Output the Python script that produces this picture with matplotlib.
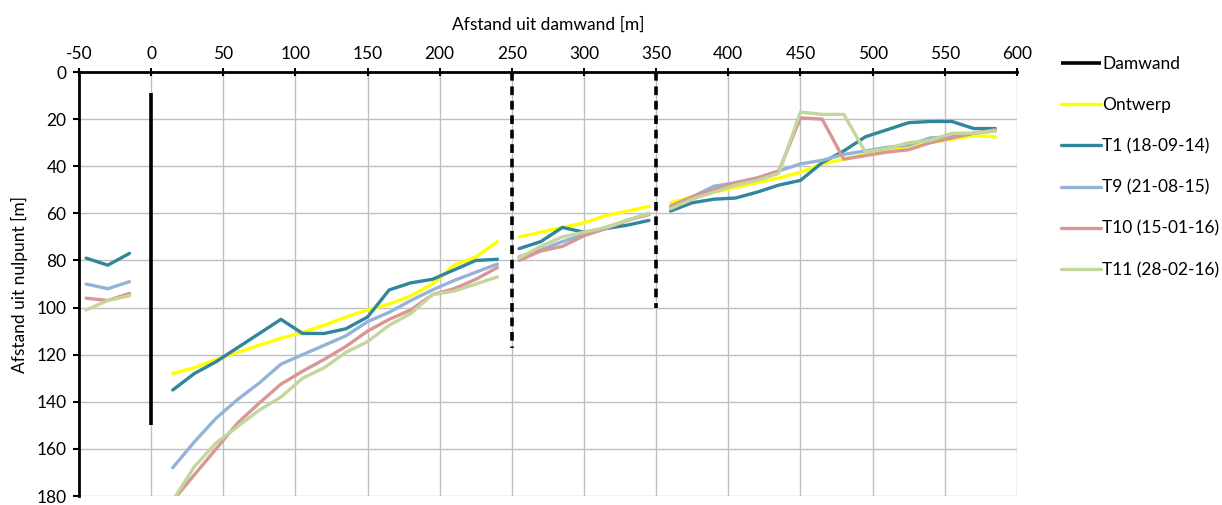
import numpy as np
import matplotlib
matplotlib.use("Agg")
from matplotlib import pyplot as plt

plt.rcParams['font.family'] = ['Lato', 'DejaVu Sans']
plt.rcParams['axes.unicode_minus'] = False

# x positions (m), None marks a gap between measured stretches
x = [-45, -30, -15, None,
     15, 30, 45, 60, 75, 90, 105, 120, 135, 150, 165, 180, 195, 210, 225, 240, None,
     255, 270, 285, 300, 315, 330, 345, None,
     360, 375, 390, 405, 420, 435, 450, 465, 480, 495, 510, 525, 540, 555, 570, 585]

ontwerp = [None, None, None, None,
           128, 125.5, 122, 119, 116, 113, 110.5, 107.5, 104, 101, 98.5, 95, 90, 82, 78.5, 72, None,
           70, 68, 66, 64, 61, 59, 57, None,
           55.5, 53, 51, 49, 47, 45, 42.5, 39, 37, 35, 33.5, 32, 30, 28.5, 27, 27.5]
t1 = [79, 82, 77, None,
      135, 128, 123, 117, 111, 105, 111, 111, 109, 104, 92.5, 89.5, 88, 84, 80, 79.5, None,
      75, 72, 66, 68, 66.5, 65, 63, None,
      59, 55.5, 54, 53.5, 51, 48, 46, 38.5, 33.5, 27.5, 24.5, 21.5, 21, 21, 24, 24]
t9 = [90, 92, 89, None,
      168, 157, 147, 139, 132, 124, 120, 116, 112, 106, 102, 97, 92.5, 88.5, 85, 81.5, None,
      78.5, 75.5, 72, 69, 66, 63, 60, None,
      57, 53, 48.5, 47, 45, 42, 39, 37.5, 35, 33.5, 32, 31, 28, 27.5, 26, 25]
t10 = [96, 97, 94, None,
       182, 171, 160, 149, 140.5, 132.5, 127, 122, 116.5, 110, 105, 101, 94.5, 92, 88, 83, None,
       80, 76, 74, 69.5, 66.5, 63, 60.5, None,
       57, 53, 50, 47, 45, 42, 19.5, 20, 37, 35.5, 34, 33, 30, 28, 26, 24.5]
t11 = [101, 97, 95, None,
       182, 167.5, 157.5, 150.5, 143.5, 138, 130, 125.5, 119, 114.5, 107.5, 102.5, 94.5, 93, 90, 87, None,
       79, 74, 70, 68, 66, 63, 60, None,
       58, 54, 51, 48, 46, 43, 17, 18, 18, 34, 32.5, 30, 29, 26, 26, 25]

# sheet pile walls: solid one at 0, dashed ones at 250 and 350
wall_x = [0, 250, 350]
wall_top = [9, 0, 0]
wall_bottom = [150, 117, 100]

series = [('Ontwerp', ontwerp, '#FFFF00'),
          ('T1 (18-09-14)', t1, '#31859C'),
          ('T9 (21-08-15)', t9, '#95B3D7'),
          ('T10 (15-01-16)', t10, '#D99694'),
          ('T11 (28-02-16)', t11, '#C3D69B')]

def to_arr(v):
    return np.array([np.nan if a is None else a for a in v], dtype=float)

fig = plt.figure(figsize=(12.22, 5.05), dpi=100)
ax = fig.add_axes([0.0646, 0.0178, 0.7676, 0.8396])

xs = to_arr(x)
ax.plot([wall_x[0], wall_x[0]], [wall_top[0], wall_bottom[0]], color='black', lw=2.6,
        solid_capstyle='butt', label='Damwand', zorder=3)
for wx, wt, wb in zip(wall_x[1:], wall_top[1:], wall_bottom[1:]):
    ax.plot([wx, wx], [wt, wb], color='black', lw=2.6, ls=(0, (2.4, 1.6)), zorder=3)

for name, vals, col in series:
    ax.plot(xs, to_arr(vals), color=col, lw=2.4, label=name, solid_capstyle='round')

fs = 12.5
ax.set_xlim(-50, 600)
ax.set_ylim(180, 0)
ax.set_xticks(np.arange(-50, 601, 50))
ax.set_yticks(np.arange(0, 181, 20))
ax.xaxis.tick_top()
ax.xaxis.set_label_position('top')
ax.set_xlabel('Afstand uit damwand [m]', fontsize=fs, labelpad=12)
ax.set_ylabel('Afstand uit nulpunt [m]', fontsize=fs, labelpad=6)
ax.tick_params(axis='x', direction='inout', length=6, width=1.5, labelsize=fs, pad=4)
ax.tick_params(axis='y', direction='out', length=4, width=1.5, labelsize=fs, pad=5)
ax.grid(True, color='#BFBFBF', lw=1)
ax.set_axisbelow(True)
for side in ['right', 'bottom']:
    ax.spines[side].set_visible(False)
for side in ['left', 'top']:
    ax.spines[side].set_linewidth(2)

ax.legend(loc='upper left', bbox_to_anchor=(1.03, 1.075), frameon=False, fontsize=fs,
          handlelength=2.3, handletextpad=0.1, labelspacing=1.45)

fig.savefig('out.png', dpi=100)
